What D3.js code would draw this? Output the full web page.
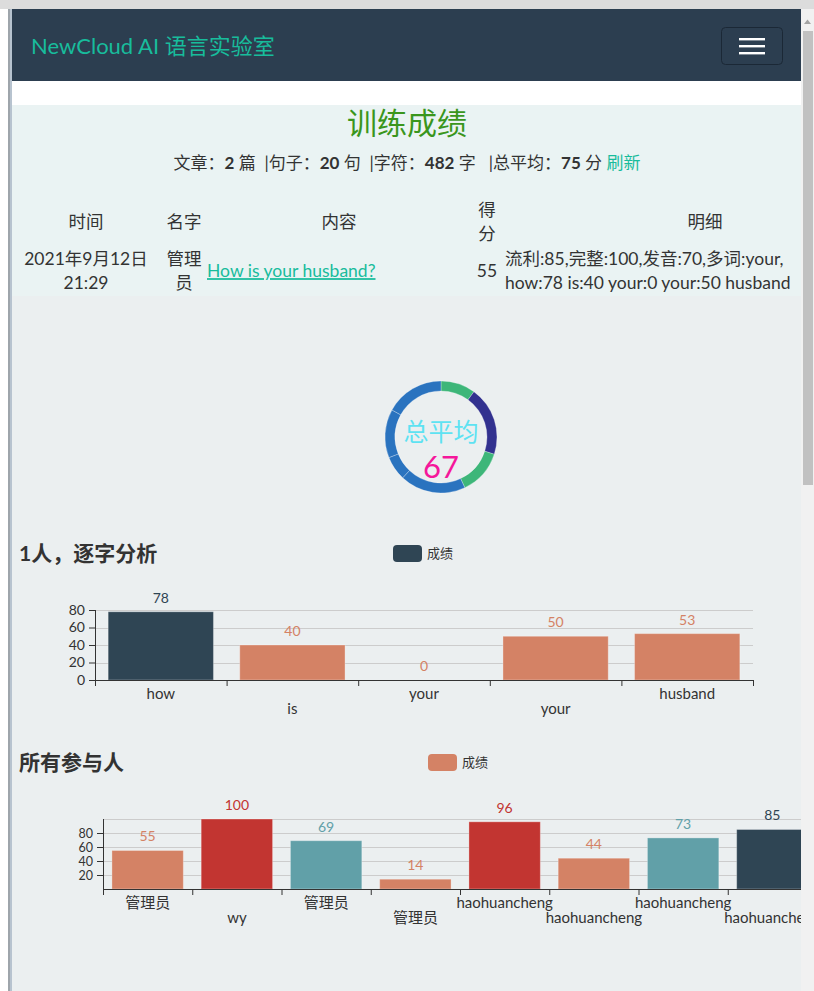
<!DOCTYPE html>
<html>
<head>
<meta charset="utf-8">
<script src="https://cdn.jsdelivr.net/npm/d3@7"></script>
<style>
  html, body { margin: 0; padding: 0; background: #fff; overflow: hidden; }
  svg { display: block; font-family: 'Lato', 'Noto Sans CJK SC', sans-serif; }
</style>
</head>
<body>
<script>
// summary line
var statArticles = 2;
var statSentences = 20;
var statChars = 482;
var statAverage = 75;

// table
var tableHeaders = ['时间', '名字', '内容', '得分', '明细'];
var rowTime = ['2021年9月12日', '21:29'];
var rowName = ['管理', '员'];
var rowContent = 'How is your husband?';
var rowScore = 55;
var rowDetail = ['流利:85,完整:100,发音:70,多词:your,', 'how:78 is:40 your:0 your:50 husband'];

// ring
var ringValues = [10, 20, 13, 19, 7, 14, 17];
var ringKinds = ['g', 'n', 'g', 'b', 'b', 'b', 'b'];
var ringAverage = 67;

// chart 1
var wordLabels = ['how', 'is', 'your', 'your', 'husband'];
var wordScores = [78, 40, 0, 50, 53];
var wordTicks = [0, 20, 40, 60, 80];

// chart 2
var peopleLabels = ['管理员', 'wy', '管理员', '管理员', 'haohuancheng', 'haohuancheng', 'haohuancheng', 'haohuancheng'];
var peopleScores = [55, 100, 69, 14, 96, 44, 73, 85];
var peopleTicks = [20, 40, 60, 80];
var peopleGrid = [20, 40, 60, 80, 100];

var scoreColor = d3.scaleThreshold()
    .domain([60, 75, 90])
    .range(['#d48265', '#61a0a8', '#2f4554', '#c23531']);
var ringColor = d3.scaleOrdinal()
    .domain(['g', 'n', 'b'])
    .range(['#3db679', '#32318f', '#2a73bf']);

var W = 814, H = 991;
var svg = d3.select('body').append('svg').attr('width', W).attr('height', H);

// browser frame
svg.append('rect').attr('width', W).attr('height', H).attr('fill', '#fff');
svg.append('rect').attr('width', W).attr('height', 9).attr('fill', '#dcdcdc');
svg.append('rect').attr('x', 8).attr('y', 9).attr('width', 2).attr('height', H).attr('fill', '#9ea5ab');
svg.append('rect').attr('x', 10).attr('y', 9).attr('width', 2).attr('height', H).attr('fill', '#b7c3cf');
svg.append('rect').attr('x', 12).attr('y', 9).attr('width', 789).attr('height', H).attr('fill', '#ebeff0');

// scrollbar
svg.append('rect').attr('x', 801).attr('y', 9).attr('width', 13).attr('height', H).attr('fill', '#f1f1f1');
svg.append('rect').attr('x', 803).attr('y', 31).attr('width', 10).attr('height', 454).attr('fill', '#c1c1c1');
svg.append('path').attr('d', 'M804,24L807.5,19.5L811,24Z').attr('fill', '#a3a3a3');

// navbar
svg.append('rect').attr('x', 12).attr('y', 9).attr('width', 789).attr('height', 72).attr('fill', '#2c3e50');
svg.append('text').attr('x', 31).attr('y', 46).attr('dy', '0.35em')
    .attr('fill', '#18bc9c').attr('font-size', 22).text('NewCloud AI 语言实验室');
svg.append('rect').attr('x', 721.5).attr('y', 27.5).attr('width', 61).attr('height', 37).attr('rx', 4)
    .attr('fill', 'none').attr('stroke', '#1b2836');
[39, 46, 53].forEach(function(yy) {
    svg.append('rect').attr('x', 739).attr('y', yy - 1).attr('width', 26).attr('height', 2.4).attr('fill', '#fff');
});

// white strip + info panel
svg.append('rect').attr('x', 12).attr('y', 81).attr('width', 789).attr('height', 24).attr('fill', '#fff');
svg.append('rect').attr('x', 12).attr('y', 105).attr('width', 789).attr('height', 191).attr('fill', '#eaf3f3');

var content = svg.append('g');
svg.append('clipPath').attr('id', 'clip').append('rect')
    .attr('x', 12).attr('y', 0).attr('width', 789).attr('height', H);
content.attr('clip-path', 'url(#clip)');

content.append('text').attr('x', 407).attr('y', 123).attr('dy', '0.35em').attr('text-anchor', 'middle')
    .attr('fill', '#3a961c').attr('font-size', 30).text('训练成绩');

var stat = content.append('text').attr('x', 407).attr('y', 163).attr('dy', '0.35em')
    .attr('text-anchor', 'middle').attr('font-size', 17).attr('fill', '#333')
    .attr('xml:space', 'preserve').style('white-space', 'pre');
[['文章：', 0], [statArticles, 1], [' 篇  |句子：', 0], [statSentences, 1], [' 句  |字符：', 0],
 [statChars, 1], [' 字   |总平均：', 0], [statAverage, 1], [' 分 ', 0], ['刷新', 2]].forEach(function(p) {
    stat.append('tspan').text(p[0])
        .attr('font-weight', p[1] === 1 ? 'bold' : null)
        .attr('fill', p[1] === 2 ? '#18bc9c' : null);
});

// table
var colX = [86, 184, 339, 487, 705];
var cell = function(x, y, s, anchor, color) {
    return content.append('text').attr('x', x).attr('y', y).attr('dy', '0.35em')
        .attr('text-anchor', anchor || 'middle').attr('font-size', 17.5)
        .attr('fill', color || '#333').text(s);
};
tableHeaders.forEach(function(h, i) {
    if (i === 3) {
        cell(colX[i], 210, h[0]);
        cell(colX[i], 234, h[1]);
    } else {
        cell(colX[i], 222, h);
    }
});
rowTime.forEach(function(s, i) { cell(colX[0], 259 + i * 24, s); });
rowName.forEach(function(s, i) { cell(colX[1], 259 + i * 24, s); });
cell(207, 271, rowContent, 'start', '#18bc9c').attr('text-decoration', 'underline');
cell(colX[3], 271, rowScore);
rowDetail.forEach(function(s, i) { cell(505, 259 + i * 24, s, 'start'); });

// ring
var ring = content.append('g').attr('transform', 'translate(441,437)');
var pie = d3.pie().sort(null);
var arc = d3.arc().innerRadius(46).outerRadius(56);
ring.selectAll('path').data(pie(ringValues)).enter().append('path')
    .attr('d', arc)
    .attr('fill', function(d, i) { return ringColor(ringKinds[i]); })
    .attr('stroke', 'rgba(255,255,255,0.35)').attr('stroke-width', 0.8);
ring.append('text').attr('y', -5).attr('dy', '0.35em').attr('text-anchor', 'middle')
    .attr('font-size', 25).attr('fill', '#5ee2f2').text('总平均');
ring.append('text').attr('y', 30).attr('dy', '0.35em').attr('text-anchor', 'middle')
    .attr('font-size', 31).attr('fill', '#f5179b').text(ringAverage);

function barChart(opt) {
    var g = content.append('g');
    var n = opt.labels.length;

    g.append('text').attr('x', 19).attr('y', opt.titleY).attr('dy', '0.35em')
        .attr('font-size', 21).attr('font-weight', 'bold').attr('fill', '#333').text(opt.title);
    g.append('rect').attr('x', opt.legendX).attr('y', opt.titleY - 9).attr('width', 29).attr('height', 17)
        .attr('rx', 4).attr('fill', scoreColor(opt.values[0]));
    g.append('text').attr('x', opt.legendX + 34).attr('y', opt.titleY - 1).attr('dy', '0.35em')
        .attr('font-size', 13).attr('fill', '#333').text('成绩');

    var x = d3.scaleBand().domain(d3.range(n)).range([opt.x0, opt.x1]).paddingInner(0.2).paddingOuter(0.1);
    var xb = d3.scaleLinear().domain([0, n]).range([opt.x0, opt.x1]);
    var y = d3.scaleLinear().domain(opt.domain).range([opt.y0, opt.yTop]);

    g.selectAll('.grid').data(opt.grid).enter().append('line')
        .attr('x1', opt.x0).attr('x2', opt.gridEnd)
        .attr('y1', function(d) { return Math.round(y(d)) + 0.5; })
        .attr('y2', function(d) { return Math.round(y(d)) + 0.5; })
        .attr('stroke', '#ccc');

    g.selectAll('.bar').data(opt.values).enter().append('rect')
        .attr('x', function(d, i) { return x(i); })
        .attr('width', x.bandwidth())
        .attr('y', function(d) { return y(d); })
        .attr('height', function(d) { return opt.y0 - y(d); })
        .attr('fill', scoreColor)
        .attr('stroke', 'rgba(255,255,255,0.3)');

    g.selectAll('.val').data(opt.values).enter().append('text')
        .attr('x', function(d, i) { return x(i) + x.bandwidth() / 2; })
        .attr('y', function(d) { return y(d) - 14; })
        .attr('dy', '0.35em').attr('text-anchor', 'middle')
        .attr('font-size', 14).attr('fill', scoreColor)
        .text(function(d) { return d; });

    var yAxis = g.append('g').attr('transform', 'translate(' + opt.x0 + ',0)')
        .call(d3.axisLeft(y).tickValues(opt.ticks).tickSize(6).tickSizeOuter(0).tickPadding(4));
    yAxis.select('.domain').attr('d', 'M0.5,' + y(opt.domain[1]) + 'V' + opt.y0);
    yAxis.selectAll('text').attr('font-size', opt.yFont);

    g.append('g').attr('transform', 'translate(0,' + opt.y0 + ')')
        .call(d3.axisBottom(xb).tickValues(d3.range(n + 1)).tickSize(6).tickSizeOuter(0).tickFormat(''));

    var xl = g.append('g').attr('transform', 'translate(0,' + opt.y0 + ')')
        .call(d3.axisBottom(x).tickSize(0).tickFormat(function(i) { return opt.labels[i]; }));
    xl.select('.domain').remove();
    xl.selectAll('text').attr('y', function(i) { return i % 2 ? 23 : 8; }).attr('font-size', 15);

    g.selectAll('.domain, .tick line').attr('stroke', '#333');
    g.selectAll('.tick text').attr('fill', '#333')
        .attr('font-family', "'Lato', 'Noto Sans CJK SC', sans-serif");
}

barChart({
    title: '1人，逐字分析', titleY: 554, legendX: 393,
    labels: wordLabels, values: wordScores, ticks: wordTicks, grid: wordTicks.slice(1), yFont: 14,
    domain: [0, 80], x0: 95, x1: 753, gridEnd: 753, y0: 680, yTop: 610
});

barChart({
    title: '所有参与人', titleY: 763, legendX: 428,
    labels: peopleLabels, values: peopleScores, ticks: peopleTicks, grid: peopleGrid, yFont: 12.5,
    domain: [0, 100], x0: 103, x1: 817, gridEnd: 817, y0: 889, yTop: 819
});
</script>
</body>
</html>
